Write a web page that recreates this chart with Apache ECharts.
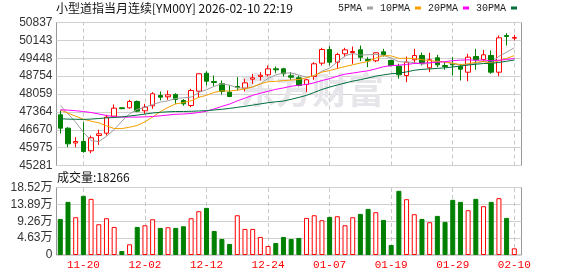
<!DOCTYPE html>
<html><head><meta charset="utf-8">
<script src="https://cdn.jsdelivr.net/npm/echarts@6/dist/echarts.min.js"></script>
<style>html,body{margin:0;padding:0;background:#fff}#c{width:578px;height:276px}</style>
</head><body><div id="c"></div>
<script>
const dates = ['11-17','11-18','11-19','11-20','11-21','11-24','11-25','11-26','11-27','11-28',
  '12-01','12-02','12-03','12-04','12-05','12-08','12-09','12-10','12-11','12-12',
  '12-15','12-16','12-17','12-18','12-19','12-22','12-23','12-24','12-26','12-29',
  '12-30','12-31','01-02','01-05','01-06','01-07','01-08','01-09','01-12','01-13',
  '01-14','01-15','01-16','01-19','01-20','01-21','01-22','01-23','01-26','01-27',
  '01-28','01-29','01-30','02-02','02-03','02-04','02-05','02-06','02-09','02-10'];
const opens = [47251,46731,46156,46214,45852,46447,46536,47197,47523,47523,
  47768,47407,47601,48001,47950,48040,47807,47612,48168,48867,
  48545,48455,48129,48351,48285,48634,48739,48805,49038,49038,
  48766,48689,48428,48739,49256,49788,49295,49621,49671,49776,
  49399,49349,49698,49360,49139,48778,49388,49555,49077,49465,
  49166,49232,49139,48906,49516,49399,49555,48906,50332,50228];
const closes = [46731,46124,46214,45825,46358,46513,47158,47508,47490,47768,
  47391,47546,48067,47935,48028,47850,47678,48195,48844,48557,
  48506,48156,47962,48312,48494,48689,48790,49038,48999,48844,
  48712,48389,48611,49232,49788,49295,49594,49776,49710,49489,
  49349,49660,49594,49166,48805,49295,49555,49256,49388,49193,
  49128,49193,49023,49489,49388,49582,48906,50243,50293,50254];
const lows = [46525,45992,45993,45775,45759,46080,46447,47158,47470,47484,
  47352,47290,47484,47807,47834,47678,47601,47546,47912,48389,
  48351,48040,47935,48195,48156,48455,48584,48739,48867,48739,
  48611,48351,48129,48611,49166,49166,49038,49489,49232,49334,
  49100,49295,49516,49128,48650,48518,49232,49166,48906,49100,
  49000,48778,48584,48557,49000,49295,48844,48751,49943,50138];
const highs = [47418,46770,46381,46964,46447,46673,47251,47651,47540,47834,
  47807,47678,48129,48156,48195,48090,47857,48261,48867,48945,
  48778,48584,48389,48713,48650,48844,48906,49166,49128,49077,
  48906,48778,48650,49295,49854,49916,49660,49854,49905,49943,
  49489,49683,49815,49388,49232,49516,49815,49671,49660,49582,
  49295,49489,49232,49621,49815,49776,49749,50332,50421,50359];
const volumes = [99000,145800,103600,162300,154000,84400,100900,77000,11000,29300,
  77000,81600,98100,74300,76100,74300,78900,100900,120100,129300,
  66000,44000,30300,109100,71500,71500,49500,24800,33000,49500,
  44000,46800,101800,109100,95400,104500,106400,81600,103600,112800,
  126500,117400,96300,27500,176100,153100,111900,99000,89900,107300,
  90800,151300,145800,122900,154100,133900,145800,155900,101800,18266];
const volumeUp = [0,0,1,0,1,1,1,1,0,1, 0,1,1,0,1,0,0,1,1,0, 0,0,0,1,1,1,1,1,0,0,
  0,0,1,1,1,0,1,1,1,0, 0,1,0,0,0,1,1,0,1,0, 0,0,0,1,0,1,0,1,0,1];
const ma5 = [47612,47290,46964,46575,46250,46207,46414,46672,47005,47287,
  47463,47541,47652,47741,47793,47885,47912,47937,48119,48225,
  48356,48452,48405,48299,48286,48323,48449,48665,48802,48872,
  48877,48796,48711,48758,48946,49063,49304,49537,49633,49573,
  49584,49597,49560,49452,49315,49304,49283,49215,49260,49337,
  49304,49232,49185,49205,49244,49335,49278,49522,49682,49856];
const ma10 = [47445,47313,47197,47080,47003,46940,46824,46719,46715,46769,
  46835,46977,47162,47373,47540,47674,47726,47795,47930,48009,
  48121,48182,48171,48209,48255,48339,48451,48535,48550,48579,
  48600,48623,48688,48780,48909,48970,49050,49124,49195,49260,
  49323,49450,49549,49542,49444,49444,49440,49388,49356,49326,
  49304,49257,49200,49233,49291,49320,49255,49353,49444,49550];
const ma20 = [47445,47433,47410,47379,47340,47282,47224,47177,47162,47162,
  47162,47170,47185,47212,47243,47271,47282,47302,47340,47389,
  47478,47579,47667,47791,47898,48007,48088,48165,48240,48294,
  48360,48402,48429,48494,48582,48655,48750,48829,48873,48919,
  48961,49037,49118,49161,49177,49207,49245,49256,49275,49293,
  49314,49354,49374,49387,49367,49382,49347,49371,49400,49438];
const ma30 = [47096,47084,47076,47072,47084,47107,47131,47146,47170,47205,
  47239,47278,47321,47348,47368,47379,47379,47387,47399,47414,
  47438,47465,47500,47539,47581,47628,47675,47721,47756,47786,
  47852,47927,48007,48121,48235,48328,48409,48485,48559,48616,
  48681,48752,48803,48844,48869,48918,48980,49016,49034,49055,
  49076,49110,49146,49185,49215,49244,49248,49288,49332,49379];
const priceTicks = ['45281','45975','46670','47364','48059','48754','49448','50143','50837'];
const markedDates = ['11-20','12-02','12-12','12-24','01-07','01-19','01-29','02-10'];
const maNames = ['5PMA','10PMA','20PMA','30PMA'];
const lastVolume = 18266;

const chart = echarts.init(document.getElementById('c'), null, {renderer:'canvas'});
const RED = '#ff0000', GREEN = '#008000';
const candleData = opens.map((o,i)=>[o, closes[i], lows[i], highs[i]]);
const volData = volumes.map((v,i)=>({value:v, itemStyle:{
  color: volumeUp[i] ? '#ffffff' : GREEN,
  borderColor: volumeUp[i] ? RED : GREEN, borderWidth:1}}));
const vLines = ()=>({symbol:['none','none'], silent:true, label:{show:false}, z:1,
  lineStyle:{type:[4,3], color:'#c8c8c8', width:1}, emphasis:{disabled:true},
  data: markedDates.map(d=>({xAxis:d}))});
const maColors = ['#a0a0a0','#f5a000','#ff00ff','#00703c'];
const maData = [ma5, ma10, ma20, ma30];
const labelFont = 'Liberation Sans, Noto Sans CJK SC';

const option = {
  animation:false,
  backgroundColor:'#fff',
  title:{text:'小型道指当月连续[YM00Y] 2026-02-10 22:19', left:56, top:2, padding:0,
    textStyle:{fontSize:12, fontWeight:'normal', color:'#111', fontFamily:'Noto Sans CJK SC'}},
  legend:{left:338, top:3, padding:0, align:'right', icon:'rect', itemWidth:6, itemHeight:3, itemGap:7,
    data:maNames, selectedMode:false,
    textStyle:{fontFamily:'Liberation Mono', fontSize:10, color:'#222'}},
  grid:[
    {left:56.45, top:22.5, width:461.7, height:143},
    {left:56.45, top:187.5, width:461.7, height:67.5},
    {left:56.5, top:22.5, width:465, height:143, show:true, borderColor:'#999', borderWidth:1, backgroundColor:'transparent'},
    {left:56.5, top:187.5, width:465, height:67.5, show:true, borderColor:'#999', borderWidth:1, backgroundColor:'transparent'}
  ],
  xAxis:[
    {type:'category', gridIndex:0, data:dates, boundaryGap:true, show:false},
    {type:'category', gridIndex:1, data:dates, boundaryGap:true,
      axisLine:{show:false}, axisTick:{show:false}, splitLine:{show:false},
      axisLabel:{interval:(i)=> i%8===3, color:'#ff0000', fontSize:11, fontFamily:'Liberation Mono', margin:5}},
    {type:'value', gridIndex:2, min:0, max:1, show:false},
    {type:'value', gridIndex:3, min:0, max:1, show:false}
  ],
  yAxis:[
    {type:'value', gridIndex:0, min:45281, max:50837, show:false},
    {type:'value', gridIndex:1, min:0, max:185200, show:false},
    {type:'value', gridIndex:2, min:0, max:8, interval:1,
      axisLine:{show:false}, axisTick:{show:false},
      splitLine:{lineStyle:{color:'#d0d0d0', width:1}},
      axisLabel:{formatter:(v)=>priceTicks[v], color:'#333', fontSize:12, fontFamily:labelFont, margin:4}},
    {type:'value', gridIndex:3, min:0, max:185200, interval:46300,
      axisLine:{show:false}, axisTick:{show:false},
      splitLine:{lineStyle:{color:'#d0d0d0', width:1}},
      axisLabel:{formatter:(v)=> v===0 ? '0' : (v/10000).toFixed(2)+'万', color:'#333', fontSize:12, fontFamily:labelFont, margin:4}}
  ],
  graphic:[
    {type:'text', left:240, top:72, z:1, silent:true,
      style:{text:'东方财富', font:'bold 36px "Noto Sans CJK SC"', fill:'#e6e6ea'}},
    {type:'text', left:57, top:171, silent:true,
      style:{text:'成交量:'+lastVolume, font:'12px "Noto Sans CJK SC"', fill:'#111'}}
  ],
  series:[
    {type:'candlestick', xAxisIndex:0, yAxisIndex:0, data:candleData, barWidth:5,
      itemStyle:{color:'#ffffff', color0:GREEN, borderColor:RED, borderColor0:GREEN, borderWidth:1},
      markLine: vLines(), silent:true, z:3},
    ...maNames.map((n,k)=>({type:'line', name:n, xAxisIndex:0, yAxisIndex:0, data:maData[k],
      symbol:'none', showSymbol:false, silent:true, z:4, color:maColors[k],
      itemStyle:{color:maColors[k]}, lineStyle:{color:maColors[k], width:1}})),
    {type:'bar', xAxisIndex:1, yAxisIndex:1, data:volData, barWidth:5, silent:true, z:3,
      markLine: vLines()}
  ]
};
chart.setOption(option);
</script></body></html>
